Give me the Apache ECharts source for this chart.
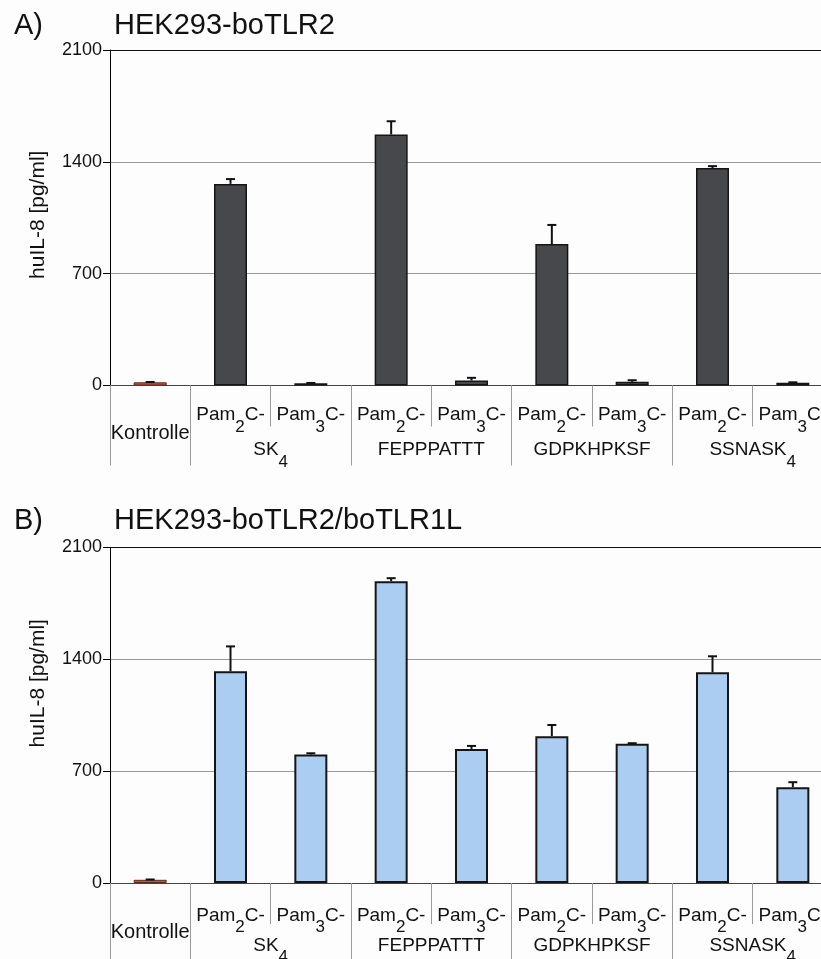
<!DOCTYPE html>
<html><head><meta charset="utf-8">
<script src="https://cdn.jsdelivr.net/npm/echarts@6/dist/echarts.min.js"></script>
<style>html,body{margin:0;padding:0;background:#fdfdfd}#c{width:821px;height:959px}</style>
</head><body><div id="c"></div><script>
// ---- data ----
const categories = ['Kontrolle','Pam2C-SK4','Pam3C-SK4','Pam2C-FEPPPATTT','Pam3C-FEPPPATTT','Pam2C-GDPKHPKSF','Pam3C-GDPKHPKSF','Pam2C-SSNASK4','Pam3C-SSNASK4'];
const lipidIndex = ['', '2', '3', '2', '3', '2', '3', '2', '3'];
const groupNames = ['SK4', 'FEPPPATTT', 'GDPKHPKSF', 'SSNASK4'];
const yTicks = [0, 700, 1400, 2100];
const titleA = 'HEK293-boTLR2';
const titleB = 'HEK293-boTLR2/boTLR1L';
const yName = 'huIL-8 [pg/ml]';
const valuesA = [20, 1262, 14, 1571, 31, 885, 23, 1361, 17];
const sdA     = [2, 30, 2, 83, 17, 120, 10, 12, 3];
const valuesB = [20, 1325, 804, 1889, 839, 919, 871, 1319, 600];
const sdB     = [2, 156, 8, 19, 19, 70, 4, 100, 31];

// ---- helpers ----
const FONT = 'Liberation Sans, Arial, Helvetica, sans-serif';
function subText(name){ // trailing digit as subscript
  const m = name.match(/^(.*?)(\d)$/);
  return m ? '{g|' + m[1] + '}{s|' + m[2] + '}' : '{g|' + name + '}';
}
// slots on a 19-position boundary axis (every half category)
const slotCount = categories.length * 2 + 1;
const slots = Array.from({length: slotCount}, (_, k) => String(k));
const groupSlot = {};
groupNames.forEach((g, gi) => { groupSlot[2 * (2 + 2 * gi)] = g; });
const boundarySlots = new Set([0, 2]);
groupNames.forEach((g, gi) => boundarySlots.add(2 * (3 + 2 * gi)));

function panel(i, top, vals, sds, fill, bw, cfg){
  const grid = {left: 110, right: -12, top: top, height: 335.5, outerBoundsMode: 'none', containLabel: false};
  const xMain = {
    type: 'category', gridIndex: i, data: categories, boundaryGap: true, position: 'bottom',
    axisLine: {show: true, lineStyle: {color: '#444', width: 1}},
    axisTick: {show: true, interval: 0, length: 41, lineStyle: {color: '#9a9a9a', width: 1}},
    axisLabel: {
      interval: 0, hideOverlap: false, margin: cfg.pamMargin, color: '#111', fontFamily: FONT,
      formatter: (v, k) => k === 0 ? '{k|Kontrolle}' : '{m|Pam}{s|' + lipidIndex[k] + '}{m|C-}',
      rich: {
        m: {fontSize: 19, lineHeight: 24, verticalAlign: 'top', fontFamily: FONT, color: '#111'},
        s: {fontSize: 17, lineHeight: 17, padding: [13, 0, 0, 0], verticalAlign: 'top', fontFamily: FONT, color: '#111'},
        k: {fontSize: 20, lineHeight: 22, padding: [cfg.kPad, 0, 0, 0], verticalAlign: 'top', fontFamily: FONT, color: '#111'}
      }
    },
    splitLine: {show: false}
  };
  const xGroup = {
    type: 'category', gridIndex: i, data: slots, boundaryGap: false, position: 'bottom',
    axisLine: {show: false},
    axisTick: {show: true, length: 80, interval: (k) => boundarySlots.has(k), lineStyle: {color: '#9a9a9a', width: 1}},
    axisLabel: {
      interval: 0, hideOverlap: false, margin: cfg.groupMargin, color: '#111', fontFamily: FONT,
      formatter: (v, k) => groupSlot[k] ? subText(groupSlot[k]) : '',
      rich: {
        g: {fontSize: 19, lineHeight: 24, verticalAlign: 'top', fontFamily: FONT, color: '#111'},
        s: {fontSize: 17, lineHeight: 17, padding: [13, 0, 0, 0], verticalAlign: 'top', fontFamily: FONT, color: '#111'}
      }
    },
    splitLine: {show: false}
  };
  const y = {
    type: 'value', gridIndex: i, min: yTicks[0], max: yTicks[yTicks.length - 1], interval: yTicks[1] - yTicks[0],
    name: yName, nameLocation: 'middle', nameGap: 61, nameRotate: 90,
    nameTextStyle: {fontSize: 21, color: '#111', fontFamily: FONT, padding: cfg.namePad},
    axisLine: {show: true, lineStyle: {color: '#000', width: 1}},
    axisTick: {show: true, length: 7, lineStyle: {color: '#000'}},
    axisLabel: {margin: 8, fontSize: 18, color: '#111', fontFamily: FONT, formatter: (v) => String(v)},
    splitLine: {show: true, lineStyle: {color: ['#555', '#999', '#999', '#111'], width: 1}}
  };
  const bar = {
    type: 'bar', xAxisIndex: 2 * i, yAxisIndex: i, barWidth: 33,
    data: vals.map((v, k) => ({value: v, itemStyle: k === 0 ? {color: '#e04a35', borderWidth: 1, borderColor: '#5a2a22'} : {color: fill}})),
    itemStyle: {borderColor: '#151515', borderWidth: bw},
    z: 2, silent: true
  };
  const err = {
    type: 'custom', xAxisIndex: 2 * i, yAxisIndex: i, z: 3, silent: true,
    data: vals.map((v, k) => [k, v, v + sds[k]]),
    encode: {x: 0, y: [1, 2]},
    renderItem: (params, api) => {
      const base = api.coord([api.value(0), api.value(1)]);
      const topP = api.coord([api.value(0), api.value(2)]);
      const half = 4.5;
      return {type: 'group', children: [
        {type: 'line', shape: {x1: base[0], y1: base[1], x2: topP[0], y2: topP[1]}, style: {stroke: '#111', lineWidth: 2}},
        {type: 'line', shape: {x1: topP[0] - half, y1: topP[1], x2: topP[0] + half, y2: topP[1]}, style: {stroke: '#111', lineWidth: 2}}
      ]};
    }
  };
  return {grid, xAxes: [xMain, xGroup], y, series: [bar, err]};
}

const pA = panel(0, 50, valuesA, sdA, '#46484b', 1.5, {pamMargin: 20, kPad: 18, groupMargin: 55, namePad: [0, 0, 0, 6]});
const pB = panel(1, 547.5, valuesB, sdB, '#abcdf1', 2, {pamMargin: 23, kPad: 16, groupMargin: 53, namePad: [0, 0, 0, 64]});

const tStyle = {fontSize: 29, fontWeight: 'normal', color: '#111', fontFamily: FONT};
const option = {
  backgroundColor: '#fdfdfd',
  animation: false,
  title: [
    {text: 'A)', left: 14, top: 11, padding: 0, textStyle: tStyle},
    {text: titleA, left: 114, top: 11, padding: 0, textStyle: tStyle},
    {text: 'B)', left: 14, top: 506, padding: 0, textStyle: tStyle},
    {text: titleB, left: 114, top: 506, padding: 0, textStyle: tStyle}
  ],
  grid: [pA.grid, pB.grid],
  xAxis: [...pA.xAxes, ...pB.xAxes],
  yAxis: [pA.y, pB.y],
  series: [...pA.series, ...pB.series]
};
const chart = echarts.init(document.getElementById('c'), null, {renderer: 'canvas'});
chart.setOption(option);
</script></body></html>
